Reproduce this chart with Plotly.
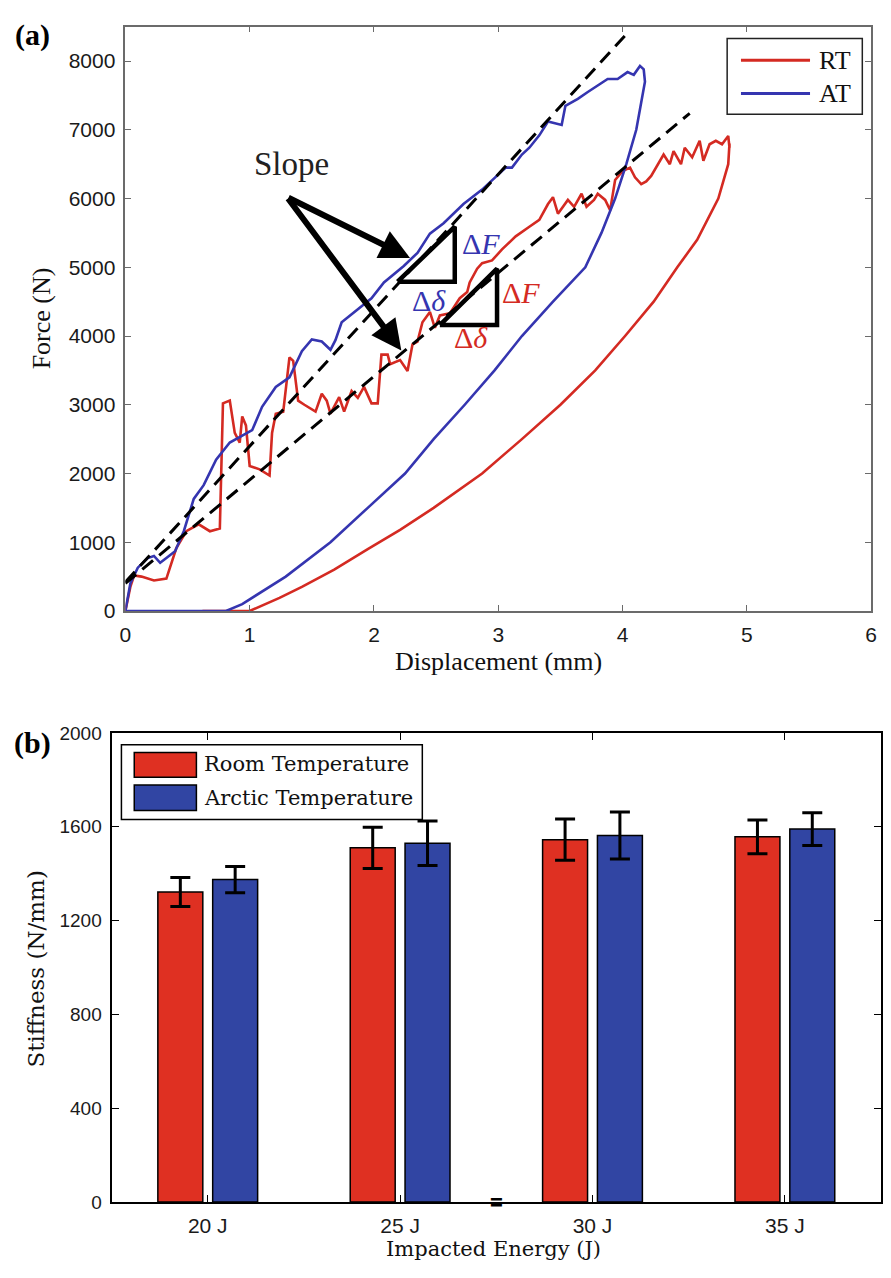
import plotly.graph_objects as go

W, H = 891, 1278

# ---------------- (a) force-displacement loops ----------------
# Room temperature (RT): loading branch then unloading branch
rt_load_disp = [0, 0.04, 0.07, 0.13, 0.23, 0.33, 0.41, 0.49, 0.59, 0.68,
                0.76, 0.785, 0.84, 0.88, 0.92, 0.94, 0.97, 1.00, 1.08, 1.16,
                1.18, 1.21, 1.27, 1.32, 1.35, 1.39, 1.44, 1.53, 1.58, 1.62,
                1.65, 1.69, 1.72, 1.76, 1.82, 1.87, 1.92, 1.98, 2.03, 2.06,
                2.11, 2.13, 2.21, 2.27, 2.31, 2.35, 2.39, 2.45, 2.49, 2.53,
                2.61, 2.69, 2.75, 2.77, 2.83, 2.87, 2.95, 3.03, 3.14, 3.25,
                3.33, 3.40, 3.44, 3.48, 3.56, 3.61, 3.67, 3.71, 3.77, 3.80,
                3.86, 3.90, 3.94, 4.00, 4.06, 4.10, 4.15, 4.19, 4.23, 4.33,
                4.38, 4.41, 4.47, 4.50, 4.56, 4.62, 4.65, 4.70, 4.75, 4.80,
                4.85, 4.86]
rt_load_force = [0, 350, 515, 500, 443, 470, 916, 1160, 1260, 1160,
                 1200, 3020, 3060, 2590, 2450, 2830, 2700, 2110, 2060, 1970,
                 2590, 2870, 2900, 3690, 3640, 3060, 3000, 2900, 3160, 3060,
                 2870, 3000, 3110, 2900, 3200, 3100, 3260, 3020, 3020, 3730,
                 3730, 3590, 3650, 3490, 3880, 3920, 4200, 4350, 4120, 4300,
                 4330, 4550, 4640, 4780, 4980, 5060, 5100, 5260, 5450, 5590,
                 5690, 5920, 6020, 5780, 5980, 5880, 6070, 5880, 5980, 6070,
                 5980, 5830, 6270, 6400, 6450, 6310, 6210, 6250, 6330, 6640,
                 6500, 6690, 6500, 6740, 6600, 6840, 6550, 6790, 6840, 6790,
                 6910, 6740]
rt_unload_disp = [4.86, 4.85, 4.77, 4.60, 4.44, 4.25, 4.02, 3.78, 3.50, 3.19,
                  2.87, 2.48, 2.21, 1.95, 1.68, 1.42, 1.24, 1.00, 0.62]
rt_unload_force = [6800, 6500, 6000, 5400, 5000, 4500, 4000, 3500, 3000, 2500,
                   2000, 1500, 1180, 900, 600, 350, 190, 0, 0]

# Arctic temperature (AT): loading branch then unloading branch
at_load_disp = [0, 0.04, 0.10, 0.18, 0.23, 0.28, 0.33, 0.40, 0.47, 0.55,
                0.63, 0.73, 0.84, 0.94, 1.02, 1.10, 1.21, 1.32, 1.42, 1.50,
                1.58, 1.65, 1.69, 1.74, 1.84, 1.98, 2.08, 2.24, 2.35, 2.45,
                2.56, 2.72, 2.87, 2.98, 3.06, 3.11, 3.19, 3.25, 3.33, 3.40,
                3.51, 3.54, 3.64, 3.72, 3.80, 3.88, 3.96, 4.04, 4.09, 4.14,
                4.17]
at_load_force = [0, 400, 630, 770, 800, 700, 770, 870, 1160, 1630,
                 1830, 2200, 2450, 2550, 2630, 2970, 3260, 3400, 3780, 3950,
                 3920, 3800, 3940, 4200, 4350, 4550, 4780, 5020, 5210, 5490,
                 5640, 5920, 6130, 6310, 6450, 6450, 6640, 6740, 6920, 7120,
                 7070, 7350, 7450, 7550, 7640, 7740, 7740, 7840, 7800, 7930,
                 7880]
at_unload_disp = [4.18, 4.14, 4.11, 4.03, 3.94, 3.83, 3.70, 3.44, 3.19, 2.97,
                  2.73, 2.48, 2.25, 1.95, 1.65, 1.29, 0.94, 0.81, 0]
at_unload_force = [7700, 7300, 7000, 6500, 6000, 5500, 5000, 4500, 4000, 3500,
                   3000, 2500, 2000, 1500, 1000, 500, 100, 0, 0]

# Fitted loading slopes (dashed) and slope triangles
at_slope_disp = [0, 4.06]
at_slope_force = [420, 8450]
rt_slope_disp = [0, 4.54]
rt_slope_force = [400, 7240]
at_tri_disp = [2.19, 2.65, 2.65, 2.19]
at_tri_force = [4790, 5590, 4790, 4790]
rt_tri_disp = [2.53, 2.99, 2.99, 2.53]
rt_tri_force = [4160, 4980, 4160, 4160]

# ---------------- (b) stiffness bars ----------------
energies = ["20 J", "25 J", "30 J", "35 J"]
rt_stiffness = [1322, 1510, 1545, 1557]
rt_stiffness_err = [62, 88, 88, 72]
at_stiffness = [1375, 1530, 1563, 1590]
at_stiffness_err = [56, 95, 100, 70]

RED = "#D42A22"
BLUE = "#3535B0"
BAR_RED = "#DF3022"
BAR_BLUE = "#3145A3"
SERIF = "Liberation Serif, Times New Roman, serif"
SERIF_B = "DejaVu Serif, serif"
SANS = "Liberation Sans, Arial, sans-serif"


def fx(px):
    """Figure x pixel -> paper fraction."""
    return px / W


def fy(py):
    """Figure y pixel (from top) -> paper fraction."""
    return 1 - py / H


fig = go.Figure()

# loops
fig.add_trace(go.Scatter(x=rt_load_disp + rt_unload_disp, y=rt_load_force + rt_unload_force,
                         mode="lines", name="RT", line=dict(color=RED, width=2.6),
                         xaxis="x", yaxis="y", showlegend=False))
fig.add_trace(go.Scatter(x=at_load_disp + at_unload_disp, y=at_load_force + at_unload_force,
                         mode="lines", name="AT", line=dict(color=BLUE, width=2.6),
                         xaxis="x", yaxis="y", showlegend=False))
for sx, sy in ((at_slope_disp, at_slope_force), (rt_slope_disp, rt_slope_force)):
    fig.add_trace(go.Scatter(x=sx, y=sy, mode="lines",
                             line=dict(color="black", width=3, dash="14px,8px"),
                             xaxis="x", yaxis="y", showlegend=False, hoverinfo="skip"))
for tx, ty in ((at_tri_disp, at_tri_force), (rt_tri_disp, rt_tri_force)):
    fig.add_trace(go.Scatter(x=tx, y=ty, mode="lines",
                             line=dict(color="black", width=4.5),
                             xaxis="x", yaxis="y", showlegend=False, hoverinfo="skip"))

# bars
fig.add_trace(go.Bar(x=energies, y=rt_stiffness, name="Room Temperature",
                     marker=dict(color=BAR_RED, line=dict(color="black", width=1.5)),
                     error_y=dict(type="data", array=rt_stiffness_err, color="black",
                                  thickness=3, width=10),
                     xaxis="x2", yaxis="y2", showlegend=False))
fig.add_trace(go.Bar(x=energies, y=at_stiffness, name="Arctic Temperature",
                     marker=dict(color=BAR_BLUE, line=dict(color="black", width=1.5)),
                     error_y=dict(type="data", array=at_stiffness_err, color="black",
                                  thickness=3, width=10),
                     xaxis="x2", yaxis="y2", showlegend=False))

axis_a = dict(showgrid=False, zeroline=False, showline=True, mirror="ticks",
              linecolor="#6b6b6b", linewidth=1.5, ticks="inside", ticklen=6,
              tickcolor="#6b6b6b", ticklabelstandoff=4,
              tickfont=dict(family=SANS, size=21, color="#1a1a1a"))
axis_b = dict(showgrid=False, zeroline=False, showline=True, mirror="ticks",
              linecolor="black", linewidth=2, ticks="inside", ticklen=7,
              tickcolor="black", ticklabelstandoff=4,
              tickfont=dict(family=SANS, size=19, color="#1a1a1a"))

fig.update_layout(
    width=W, height=H,
    margin=dict(l=0, r=0, t=0, b=0),
    paper_bgcolor="white", plot_bgcolor="white",
    barmode="group", bargap=0.43, bargroupgap=0.18,
    xaxis=dict(axis_a, domain=[fx(121), fx(877)], range=[0, 6], dtick=1, anchor="y"),
    yaxis=dict(axis_a, domain=[fy(611), fy(17)], range=[0, 8500], dtick=1000, anchor="x"),
    xaxis2=dict(axis_b, domain=[fx(107), fx(887)], range=[-0.5, 3.5], type="category",
                anchor="y2", tickfont=dict(family=SANS, size=21, color="#1a1a1a")),
    yaxis2=dict(axis_b, domain=[fy(1212), fy(735)], range=[0, 2000], dtick=400,
                anchor="x2"),
)


def label(text, x, y, size, family=SERIF, color="#111", angle=0, xref="paper", yref="paper"):
    return dict(text=text, x=x, y=y, xref=xref, yref=yref, xanchor="center",
                yanchor="middle", textangle=angle, showarrow=False,
                font=dict(family=family, size=size, color=color))


ann = [
    # panel labels
    label("<b>(a)</b>", fx(27), fy(25), 30, color="black"),
    label("<b>(b)</b>", fx(27), fy(745), 30, color="black"),
    # axis titles
    label("Displacement (mm)", fx(499), fy(662), 26),
    label("Force (N)", fx(36), fy(314), 26, angle=-90),
    label("Impacted Energy (J)", fx(494), fy(1260), 21, family=SERIF_B),
    label("Stiffness (N/mm)", fx(30), fy(975), 23, family=SERIF_B, angle=-90),
    # slope callout
    label("Slope", 1.34, 6500, 33, color="#222", xref="x", yref="y"),
    label("Δ<i>F</i>", 2.86, 5340, 30, color=BLUE, xref="x", yref="y"),
    label("Δ<i>δ</i>", 2.44, 4520, 30, color=BLUE, xref="x", yref="y"),
    label("Δ<i>F</i>", 3.18, 4640, 30, color=RED, xref="x", yref="y"),
    label("Δ<i>δ</i>", 2.78, 3975, 30, color=RED, xref="x", yref="y"),
    # line legend for (a)
    label("RT", fx(840), fy(51), 26),
    label("AT", fx(840), fy(85), 26),
    # small break mark on the energy axis
    label("<b>=</b>", 1.5, 0, 22, family=SANS, color="black", xref="x2", yref="y2"),
]
for tip_x, tip_y in ((2.29, 5136), (2.22, 3791)):
    ann.append(dict(text="", x=tip_x, y=tip_y, ax=1.30, ay=6023, xref="x", yref="y",
                    axref="x", ayref="y", showarrow=True, arrowhead=2, arrowsize=1,
                    arrowwidth=6, arrowcolor="black", standoff=0, startstandoff=0))
# bar legend for (b)
for text, py in (("Room Temperature", 767), ("Arctic Temperature", 801)):
    ann.append(dict(text=text, x=fx(199), y=fy(py), xref="paper", yref="paper",
                    xanchor="left", yanchor="middle", showarrow=False,
                    font=dict(family=SERIF_B, size=21, color="#111")))

shapes = [
    dict(type="rect", xref="paper", yref="paper", x0=fx(731), x1=fx(868), y0=fy(106), y1=fy(29),
         line=dict(color="#222", width=1.5), fillcolor="white", layer="below"),
    dict(type="line", xref="paper", yref="paper", x0=fx(745), x1=fx(815), y0=fy(51), y1=fy(51),
         line=dict(color=RED, width=3)),
    dict(type="line", xref="paper", yref="paper", x0=fx(745), x1=fx(815), y0=fy(85), y1=fy(85),
         line=dict(color=BLUE, width=3)),
    dict(type="rect", xref="paper", yref="paper", x0=fx(117), x1=fx(422), y0=fy(823), y1=fy(747),
         line=dict(color="black", width=1.5), fillcolor="white"),
    dict(type="rect", xref="paper", yref="paper", x0=fx(130), x1=fx(193), y0=fy(780), y1=fy(755),
         line=dict(color="black", width=1.5), fillcolor=BAR_RED),
    dict(type="rect", xref="paper", yref="paper", x0=fx(130), x1=fx(193), y0=fy(814), y1=fy(788),
         line=dict(color="black", width=1.5), fillcolor=BAR_BLUE),
]

fig.update_layout(annotations=ann, shapes=shapes)
fig.write_html("out.html")
